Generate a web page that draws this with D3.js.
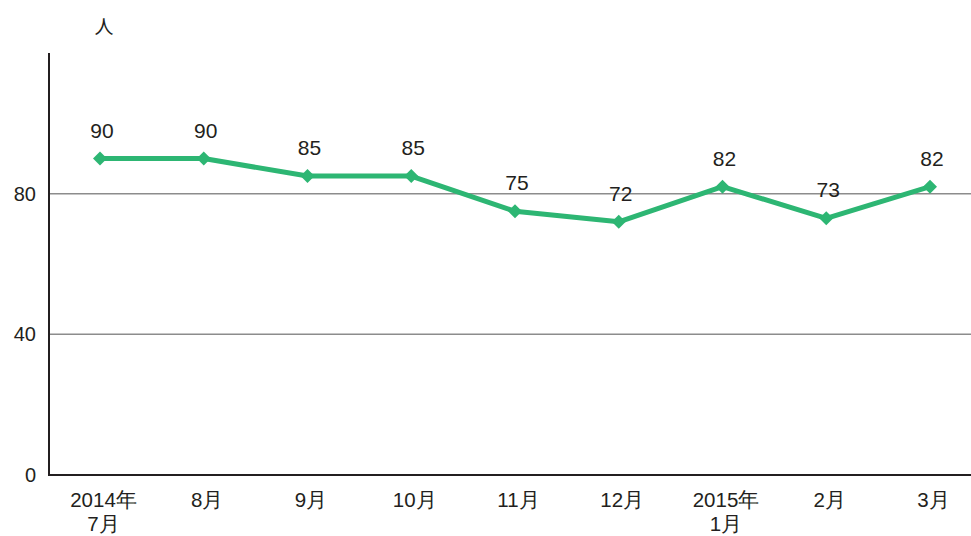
<!DOCTYPE html>
<html>
<head>
<meta charset="utf-8">
<script src="https://cdn.jsdelivr.net/npm/d3@7"></script>
<style>
  body { margin: 0; background: #fff; }
  svg { display: block; font-family: "Liberation Sans", Arial, "Noto Sans CJK JP", sans-serif; }
</style>
</head>
<body>
<svg id="chart"></svg>
<script>
// data
const months = ["2014年\n7月", "8月", "9月", "10月", "11月", "12月", "2015年\n1月", "2月", "3月"];
const people = [90, 90, 85, 85, 75, 72, 82, 73, 82];
const yTicks = [0, 40, 80];
const unitLabel = "人";

const width = 971;
const height = 536;
const plotLeft = 49;
const plotBottom = 475;
const plotTop = 53;

const green = "#2db673";
const ink = "#231f20";

const svg = d3.select("#chart").attr("width", width).attr("height", height);

const xScale = d3.scalePoint()
  .domain(months)
  .range([100, 930]);

const yScale = d3.scaleLinear()
  .domain([0, 120])
  .range([plotBottom, plotTop]);

// grid lines
svg.append("g")
  .selectAll("line")
  .data(yTicks.filter(d => d > 0))
  .enter()
  .append("line")
  .attr("x1", plotLeft)
  .attr("x2", width)
  .attr("y1", d => yScale(d))
  .attr("y2", d => yScale(d))
  .attr("stroke", "#8c8c8c")
  .attr("stroke-width", 1.5);

// y axis
let yAxis = d3.axisLeft(yScale).tickValues(yTicks).tickSize(0).tickPadding(13);
let gy = svg.append("g")
  .attr("transform", "translate(" + plotLeft + ",0)")
  .call(yAxis);
gy.select(".domain").remove();
gy.selectAll("text")
  .attr("fill", ink)
  .style("font-size", "20px");

// x axis
let xAxis = d3.axisBottom(xScale).tickSize(0).tickFormat("");
let gx = svg.append("g")
  .attr("transform", "translate(0," + plotBottom + ")")
  .call(xAxis);
gx.select(".domain").remove();
gx.selectAll(".tick").each(function (d) {
  let t = d3.select(this).append("text")
    .attr("text-anchor", "middle")
    .attr("x", 3)
    .attr("fill", ink)
    .style("font-size", "20.5px");
  d.split("\n").forEach((part, i) => {
    t.append("tspan").attr("x", 3).attr("y", 32 + i * 24).text(part);
  });
});

// axis lines
svg.append("line")
  .attr("x1", plotLeft).attr("x2", plotLeft)
  .attr("y1", plotTop).attr("y2", plotBottom + 1)
  .attr("stroke", ink).attr("stroke-width", 2);
svg.append("line")
  .attr("x1", plotLeft - 1).attr("x2", width)
  .attr("y1", plotBottom).attr("y2", plotBottom)
  .attr("stroke", ink).attr("stroke-width", 2);

// unit label
svg.append("text")
  .text(unitLabel)
  .attr("x", 104)
  .attr("y", 34)
  .attr("text-anchor", "middle")
  .attr("fill", ink)
  .style("font-family", "'Noto Sans CJK JP', sans-serif")
  .style("font-size", "19px");

// line
let line = d3.line()
  .x((d, i) => xScale(months[i]))
  .y(d => yScale(d));

svg.append("path")
  .datum(people)
  .attr("d", line)
  .attr("fill", "none")
  .attr("stroke", green)
  .attr("stroke-width", 5)
  .attr("stroke-linejoin", "round");

// diamond markers
svg.append("g")
  .selectAll("path")
  .data(people)
  .enter()
  .append("path")
  .attr("d", "M0,-7L7,0L0,7L-7,0Z")
  .attr("transform", (d, i) => "translate(" + xScale(months[i]) + "," + yScale(d) + ")")
  .attr("fill", green);

// value labels
svg.append("g")
  .selectAll("text")
  .data(people)
  .enter()
  .append("text")
  .text(d => d)
  .attr("x", (d, i) => xScale(months[i]) + 2)
  .attr("y", d => yScale(d) - 21)
  .attr("text-anchor", "middle")
  .attr("fill", ink)
  .style("font-size", "21px");
</script>
</body>
</html>
